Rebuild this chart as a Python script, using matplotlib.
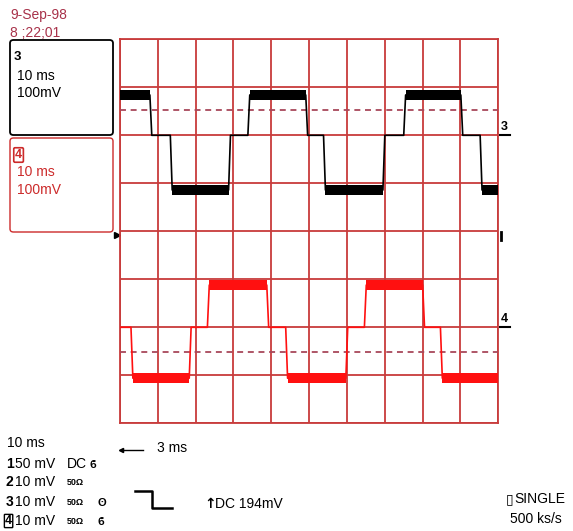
import matplotlib
matplotlib.use("Agg")
import matplotlib.pyplot as plt
from matplotlib.patches import FancyBboxPatch
from matplotlib.lines import Line2D

# screen is 10 x 8 divisions, y measured in divisions from the centre line
# channel 3 (black) - edge times and the level held after each edge
ch3_edges = [0.0, 0.79, 1.33, 2.87, 3.38, 4.91, 5.38, 6.95, 7.50, 9.01, 9.52, 10.0]
ch3_levels = [2.84, 2.0, 0.86, 2.0, 2.84, 2.0, 0.86, 2.0, 2.84, 2.0, 0.86]
ch3_ground = 2.0
ch3_dash = 2.52

# channel 4 (red)
ch4_edges = [0.0, 0.29, 1.83, 2.31, 3.88, 4.38, 5.97, 6.46, 8.00, 8.47, 10.0]
ch4_levels = [-2.0, -3.06, -2.0, -1.12, -2.0, -3.06, -2.0, -1.12, -2.0, -3.06]
ch4_ground = -2.0
ch4_dash = -2.52

date_txt = "9-Sep-98"
time_txt = "8 ;22;01"
ch_rows = [("1", "50 mV", "DC", "ϐ"), ("2", "10 mV", "50Ω", ""),
           ("3", "10 mV", "50Ω", "ʘ"), ("4", "10 mV", "50Ω", "ϐ")]

W, H = 573, 531
grid_col = "#c83c3c"
dash_col = "#a8485a"
date_col = "#a8324a"
red_txt = "#cc2a2a"
FONT = ["Liberation Sans", "DejaVu Sans"]


def fx(px):
    return px / W


def fy(py):
    return 1 - py / H


def trace(ax, edges, levels, ground, color, ramp=0.05, band=0.11):
    xs, ys = [], []
    for i, lvl in enumerate(levels):
        x0 = edges[i] + (ramp if i > 0 else 0)
        x1 = edges[i + 1]
        xs += [x0, x1]
        ys += [lvl, lvl]
        if lvl != ground:
            # noisy plateau drawn as a thick band
            ax.fill_between([x0, x1], lvl - band, lvl + band, color=color,
                            lw=0, zorder=4)
    ax.plot(xs, ys, color=color, lw=1.2, zorder=5)


fig = plt.figure(figsize=(W / 100, H / 100), dpi=100)
ax = fig.add_axes([fx(120), fy(423.3), fx(378.3), 384 / H])
ax.set_xlim(0, 10)
ax.set_ylim(-4, 4)
ax.set_xticks(range(0, 11))
ax.set_yticks(range(-4, 5))
ax.tick_params(length=0, labelbottom=False, labelleft=False)
ax.grid(True, color=grid_col, lw=1.3)
for s in ax.spines.values():
    s.set_color(grid_col)
    s.set_linewidth(1.3)

ax.axhline(ch3_dash, color=dash_col, lw=1.3, dashes=(3.3, 2.6), zorder=3)
ax.axhline(ch4_dash, color=dash_col, lw=1.3, dashes=(3.3, 2.6), zorder=3)

trace(ax, ch3_edges, ch3_levels, ch3_ground, "black")
trace(ax, ch4_edges, ch4_levels, ch4_ground, "#ff1010")

# channel markers on the right edge
for lab, g in [("3", ch3_ground), ("4", ch4_ground)]:
    ax.plot([10.05, 10.3], [g, g], color="black", lw=1.5, clip_on=False)
    ax.text(10.07, g + 0.04, lab, fontsize=9, fontweight="bold",
            family=FONT, va="bottom", ha="left", clip_on=False)
ax.plot([10.08, 10.08], [-0.02, -0.18], color="black", lw=2, clip_on=False)
ax.plot([-0.07], [-0.07], marker=">", color="black", ms=4, clip_on=False)

# channel boxes on the left
fig.patches.append(FancyBboxPatch((fx(10), fy(135)), fx(103), 95 / H,
                                  boxstyle="round,pad=0,rounding_size=0.006",
                                  transform=fig.transFigure, fill=False,
                                  ec="black", lw=1.3))
fig.patches.append(FancyBboxPatch((fx(10), fy(232)), fx(103), 94 / H,
                                  boxstyle="round,pad=0,rounding_size=0.006",
                                  transform=fig.transFigure, fill=False,
                                  ec=red_txt, lw=1.0))


def t(px, py, s, **kw):
    kw.setdefault("fontsize", 10)
    kw.setdefault("family", FONT)
    kw.setdefault("va", "baseline")
    fig.text(fx(px), fy(py), s, **kw)


t(10, 19.5, date_txt, color=date_col)
t(10, 37, time_txt, color=date_col)

t(14, 60, "3", fontweight="bold", fontsize=9.5)
t(17, 80, "10 ms")
t(17, 97, "100mV")

t(15, 158, "4", color=red_txt, fontweight="bold", fontsize=9,
  bbox=dict(boxstyle="round,pad=0.1", fc="white", ec=red_txt, lw=1.2))
t(17, 176, "10 ms", color=red_txt)
t(17, 194, "100mV", color=red_txt)

# bottom status area
t(7, 447, "10 ms")
fig.add_artist(Line2D([fx(121), fx(143)], [fy(450), fy(450)], color="black", lw=1))
fig.add_artist(Line2D([fx(121)], [fy(450)], marker="<", color="black", ms=3))
t(157, 452, "3 ms")

row_base = [468, 486, 506, 525]
for (num, volts, coup, sym), yb in zip(ch_rows, row_base):
    if num == "4":
        t(5, yb - 1, num, fontweight="bold", fontsize=9,
          bbox=dict(boxstyle="round,pad=0.05", fc="white", ec="black", lw=1.0))
    else:
        t(6, yb, num, fontweight="bold", fontsize=10)
    t(15, yb, volts)
    if coup == "DC":
        t(67, yb, coup)
        t(89, yb, sym, fontsize=8, fontweight="bold")
    else:
        t(67, yb - 1, coup, fontsize=6.5, fontweight="bold")
        if sym:
            t(97, yb, sym, fontsize=8, fontweight="bold")

fig.add_artist(Line2D([fx(135), fx(152), fx(152), fx(172)],
                      [fy(491), fy(491), fy(508), fy(508)], color="black", lw=1.8))
t(204, 508, "↑", fontweight="bold", fontsize=10, family="DejaVu Sans")
t(215, 508, "DC 194mV")

t(506, 503, "▯", family="DejaVu Sans", fontsize=10)
t(514, 503, "SINGLE")
t(510, 523, "500 ks/s")

fig.savefig("out.png", dpi=100)
